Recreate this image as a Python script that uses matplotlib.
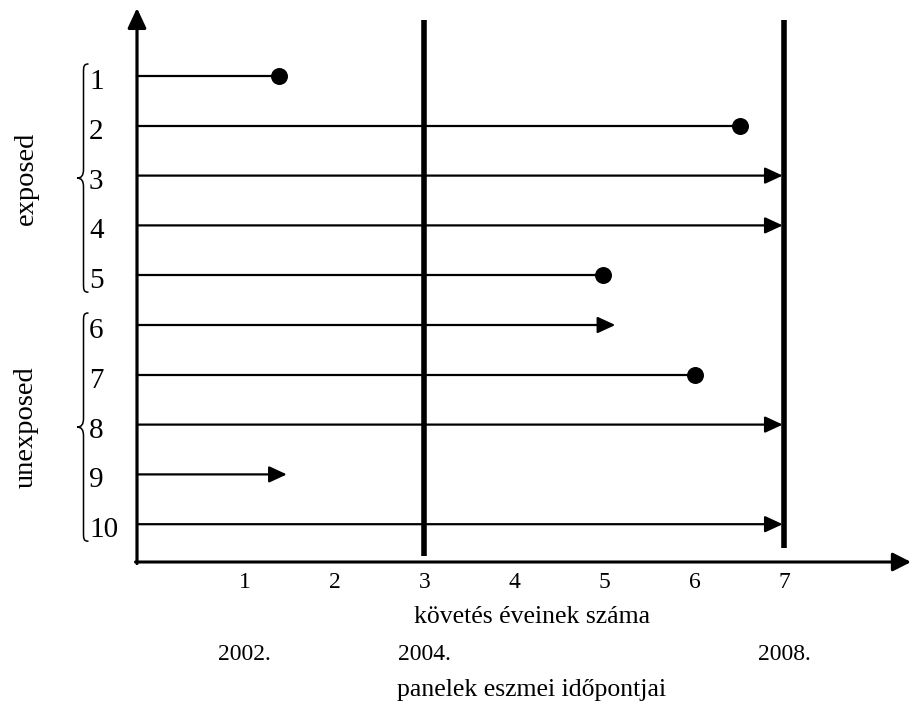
import matplotlib
matplotlib.use('Agg')
import matplotlib.pyplot as plt
from matplotlib.path import Path
from matplotlib.patches import PathPatch

# ---- data ----
rows = [1, 2, 3, 4, 5, 6, 7, 8, 9, 10]
row_labels = ['1', '2', '3', '4', '5', '6', '7', '8', '9', '10']
end_time = [1.38, 6.51, 6.98, 6.98, 4.98, 5.12, 6.01, 6.98, 1.47, 6.98]
outcome = ['event', 'event', 'censored', 'censored', 'event',
           'censored', 'event', 'censored', 'censored', 'censored']
group_names = ['exposed', 'unexposed']
group_first = [1, 6]
group_last = [5, 10]
follow_ticks = [1, 2, 3, 4, 5, 6, 7]
follow_labels = ['1', '2', '3', '4', '5', '6', '7']
year_ticks = [1, 3, 7]
year_labels = ['2002.', '2004.', '2008.']
panel_times = [3, 7]
xlabel_follow = 'követés éveinek száma'
xlabel_panel = 'panelek eszmei időpontjai'

plt.rcParams['font.family'] = ['Liberation Serif', 'DejaVu Serif']

W, H = 912, 706
fig = plt.figure(figsize=(W / 100, H / 100), dpi=100)
ax = fig.add_axes([0, 0, 1, 1])

# layout: pixel <-> data mapping
PX_X0, PX_PER_YR = 154.5, 90.0
PX_R1, PX_PER_ROW = 76.0, 49.8


def X(px):
    return (px - PX_X0) / PX_PER_YR


def Y(py):
    return 1 + (py - PX_R1) / PX_PER_ROW


ax.set_xlim(X(0), X(W))
ax.set_ylim(Y(H), Y(0))
ax.axis('off')

x_origin = X(137)
y_origin = Y(562)

# axes with arrows
ax.annotate('', xy=(X(911), y_origin), xytext=(X(135.5), y_origin),
            arrowprops=dict(arrowstyle='-|>,head_length=1.1,head_width=0.56',
                            lw=2.2, color='black', shrinkA=0, shrinkB=0,
                            mutation_scale=10))
ax.annotate('', xy=(x_origin, Y(8)), xytext=(x_origin, Y(563.5)),
            arrowprops=dict(arrowstyle='-|>,head_length=1.2,head_width=0.56',
                            lw=2.3, color='black', shrinkA=0, shrinkB=0,
                            mutation_scale=10))

# panel vertical lines
for t, bottom in zip(panel_times, [556, 548]):
    ax.plot([t, t], [Y(20), Y(bottom)], color='black', lw=4.0,
            solid_capstyle='butt')

# subjects
for r, t, o in zip(rows, end_time, outcome):
    if o == 'event':
        ax.plot([x_origin, t], [r, r], color='black', lw=1.6)
        ax.plot([t], [r], marker='o', ms=11.2, color='black')
    else:
        ax.annotate('', xy=(t, r), xytext=(x_origin, r),
                    arrowprops=dict(arrowstyle='-|>,head_length=1.08,head_width=0.5',
                                    lw=1.6, color='black', shrinkA=0, shrinkB=0,
                                    mutation_scale=10))

# row labels
for r, lab in zip(rows, row_labels):
    ax.text(X(89), r + 0.12, lab, fontsize=21, ha='left', va='center')

# braces and group labels
def brace(top_px, bot_px, x_px=83.5, hook=5.0, tip=6.5, c=9.0):
    mid = (top_px + bot_px) / 2
    pts = [
        (x_px + hook, top_px),
        (x_px, top_px), (x_px, top_px + c * 0.3), (x_px, top_px + c),
        (x_px, mid - c),
        (x_px, mid - c * 0.3), (x_px - tip * 0.3, mid), (x_px - tip, mid),
        (x_px - tip * 0.3, mid), (x_px, mid + c * 0.3), (x_px, mid + c),
        (x_px, bot_px - c),
        (x_px, bot_px - c * 0.3), (x_px, bot_px), (x_px + hook, bot_px),
    ]
    codes = [Path.MOVETO,
             Path.CURVE4, Path.CURVE4, Path.CURVE4,
             Path.LINETO,
             Path.CURVE4, Path.CURVE4, Path.CURVE4,
             Path.CURVE4, Path.CURVE4, Path.CURVE4,
             Path.LINETO,
             Path.CURVE4, Path.CURVE4, Path.CURVE4]
    verts = [(X(px), Y(py)) for px, py in pts]
    ax.add_patch(PathPatch(Path(verts, codes), fill=False, lw=1.1,
                           edgecolor='black'))
    return mid


for name, r0, r1 in zip(group_names, group_first, group_last):
    top_px = PX_R1 + (r0 - 1) * PX_PER_ROW - 12
    bot_px = PX_R1 + (r1 - 1) * PX_PER_ROW + 17
    mid = brace(top_px, bot_px)
    ax.text(X(26), Y(mid), name, fontsize=20.5, rotation=90,
            ha='center', va='center')

# x tick labels
for t, lab in zip(follow_ticks, follow_labels):
    ax.text(t, Y(582), lab, fontsize=17, ha='center', va='center')
ax.text(X(532), Y(617), xlabel_follow, fontsize=18.5, ha='center', va='center')
for t, lab in zip(year_ticks, year_labels):
    ax.text(t, Y(655), lab, fontsize=17, ha='center', va='center')
ax.text(X(532), Y(690), xlabel_panel, fontsize=18.5, ha='center', va='center')

fig.savefig('out.png', dpi=100)
